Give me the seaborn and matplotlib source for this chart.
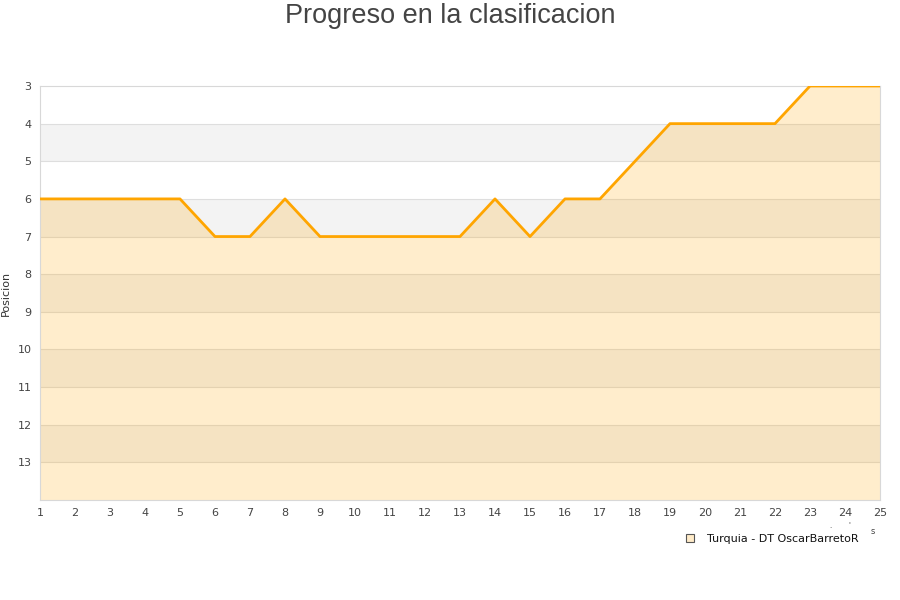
import matplotlib
matplotlib.use("Agg")
import matplotlib.pyplot as plt
import seaborn as sns
import pandas as pd

jornadas = list(range(1, 26))
posicion = [6, 6, 6, 6, 6, 7, 7, 6, 7, 7, 7, 7, 7, 6, 7, 6, 6, 5, 4, 4, 4, 4, 3, 3, 3]
serie = "Turquia - DT OscarBarretoR"
titulo = "Progreso en la clasificacion"
y_ticks = list(range(3, 14))

df = pd.DataFrame({"Jornada": jornadas, "Posicion": posicion})

sns.set_theme(style="white")
plt.rcParams['font.family'] = ['DejaVu Sans']

fig = plt.figure(figsize=(9, 6), dpi=100)
ax = fig.add_axes([40/900, 1-500/600, 840/900, 414/600])

# alternating background bands
for v in range(3, 14):
    if (v - 3) % 2 == 1:
        ax.axhspan(v, v + 1, color="#f3f3f3", zorder=0, lw=0)
for v in range(4, 14):
    ax.axhline(v, color="#dedede", lw=0.8, zorder=1)

ax.fill_between(df["Jornada"], df["Posicion"], 14, color="#FFA500", alpha=0.2, lw=0, zorder=2)
sns.lineplot(data=df, x="Jornada", y="Posicion", ax=ax, color="#FFA500", lw=2.0, zorder=3, legend=False)

ax.set_xlim(1, 25)
ax.set_ylim(14, 3)
ax.set_xticks(jornadas)
ax.set_yticks(y_ticks)
ax.tick_params(axis="both", labelsize=8, colors="#444444", length=0, pad=6)
ax.set_xlabel("")
ax.set_ylabel("Posicion", fontsize=8, color="#333333")
ax.yaxis.set_label_coords(-0.0345, 0.5)
for side in ["left", "bottom", "top", "right"]:
    ax.spines[side].set_color("#d8d8d8")
    ax.spines[side].set_linewidth(0.8)

fig.text(0.5, 1-16/600, titulo, ha="center", va="center", fontsize=19.5, color="#444444",
         family=["Liberation Sans", "DejaVu Sans"])

# legend
from matplotlib.lines import Line2D
h = Line2D([], [], marker="s", ls="none", markersize=6, markerfacecolor="#FFEBC8",
           markeredgecolor="#555555", markeredgewidth=0.8)
fig.legend([h], [serie], loc="center left", bbox_to_anchor=(674/900, 1-538.5/600),
           frameon=False, fontsize=8, handletextpad=0.6, borderaxespad=0, labelcolor="#111111")

fig.text(873/900, 1-531/600, "s", fontsize=6, color="#444444", ha="center", va="center")
fig.text(830/900, 1-526/600, ".", fontsize=5, color="#444444", ha="center", va="center")
fig.text(849/900, 1-524/600, "'", fontsize=5, color="#444444", ha="center", va="center")

fig.savefig("out.png", dpi=100)
